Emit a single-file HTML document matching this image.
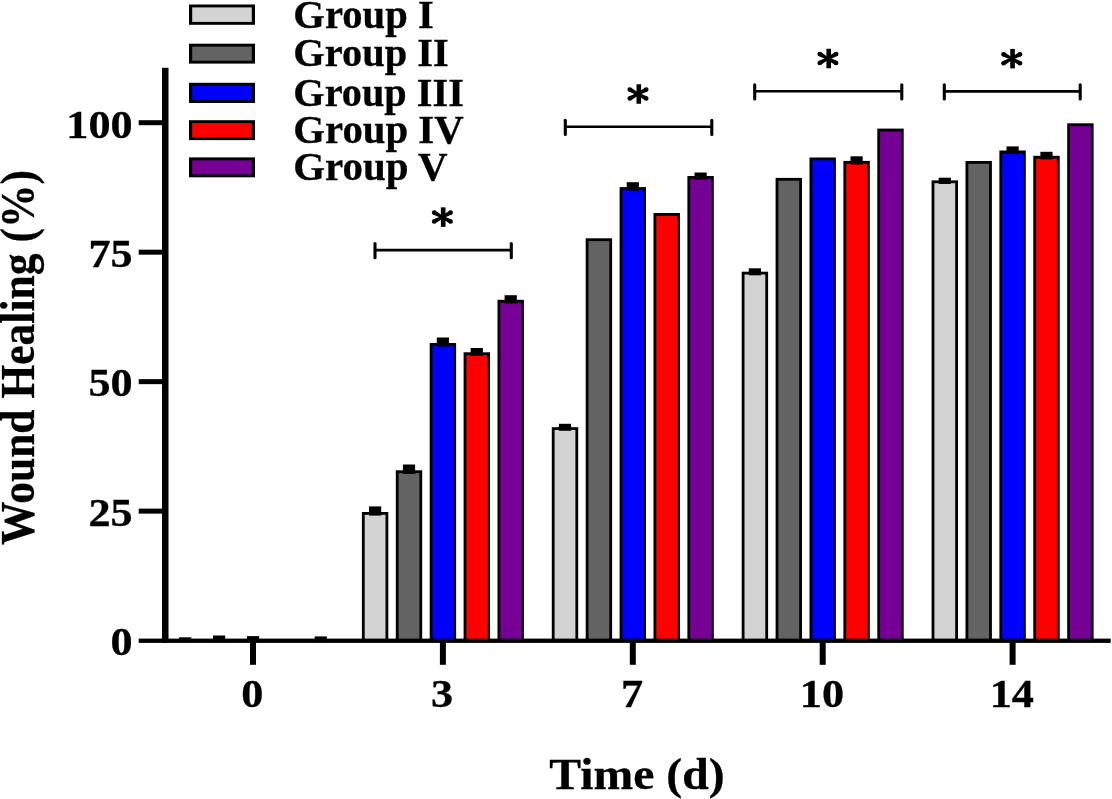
<!DOCTYPE html>
<html><head><meta charset="utf-8"><style>
html,body{margin:0;padding:0;background:#fff;}
body{width:1112px;height:799px;overflow:hidden;}
svg{display:block;filter:blur(0.45px);}
text{font-family:"Liberation Serif",serif;font-weight:bold;fill:#000;stroke:#000;stroke-width:0.3px;}
</style></head><body>
<svg width="1112" height="799" viewBox="0 0 1112 799">
<rect x="0" y="0" width="1112" height="799" fill="#fff"/>
<rect x="179.10" y="637.30" width="12.20" height="4.90" fill="#000"/>
<rect x="213.00" y="635.50" width="12.20" height="6.70" fill="#000"/>
<rect x="246.90" y="636.10" width="12.20" height="6.10" fill="#000"/>
<rect x="314.70" y="636.40" width="12.20" height="5.80" fill="#000"/>
<rect x="361.90" y="512.00" width="26.40" height="127.60" fill="#000"/>
<rect x="364.70" y="514.80" width="20.80" height="124.80" fill="#d3d3d3"/>
<rect x="369.00" y="506.40" width="12.20" height="9.20" fill="#000"/>
<rect x="395.80" y="470.30" width="26.40" height="169.30" fill="#000"/>
<rect x="398.60" y="473.10" width="20.80" height="166.50" fill="#636363"/>
<rect x="402.90" y="464.50" width="12.20" height="9.40" fill="#000"/>
<rect x="429.70" y="343.00" width="26.40" height="296.60" fill="#000"/>
<rect x="432.50" y="345.80" width="20.80" height="293.80" fill="#0000ff"/>
<rect x="436.80" y="337.50" width="12.20" height="9.10" fill="#000"/>
<rect x="463.60" y="352.30" width="26.40" height="287.30" fill="#000"/>
<rect x="466.40" y="355.10" width="20.80" height="284.50" fill="#ff0000"/>
<rect x="470.70" y="348.00" width="12.20" height="7.90" fill="#000"/>
<rect x="497.50" y="299.80" width="26.40" height="339.80" fill="#000"/>
<rect x="500.30" y="302.60" width="20.80" height="337.00" fill="#760096"/>
<rect x="504.60" y="295.20" width="12.20" height="8.20" fill="#000"/>
<rect x="551.80" y="427.20" width="26.40" height="212.40" fill="#000"/>
<rect x="554.60" y="430.00" width="20.80" height="209.60" fill="#d3d3d3"/>
<rect x="558.90" y="423.80" width="12.20" height="7.00" fill="#000"/>
<rect x="585.70" y="238.30" width="26.40" height="401.30" fill="#000"/>
<rect x="588.50" y="241.10" width="20.80" height="398.50" fill="#636363"/>
<rect x="619.60" y="187.10" width="26.40" height="452.50" fill="#000"/>
<rect x="622.40" y="189.90" width="20.80" height="449.70" fill="#0000ff"/>
<rect x="626.70" y="182.20" width="12.20" height="8.50" fill="#000"/>
<rect x="653.50" y="213.00" width="26.40" height="426.60" fill="#000"/>
<rect x="656.30" y="215.80" width="20.80" height="423.80" fill="#ff0000"/>
<rect x="687.40" y="176.00" width="26.40" height="463.60" fill="#000"/>
<rect x="690.20" y="178.80" width="20.80" height="460.80" fill="#760096"/>
<rect x="694.50" y="172.50" width="12.20" height="7.10" fill="#000"/>
<rect x="741.70" y="271.70" width="26.40" height="367.90" fill="#000"/>
<rect x="744.50" y="274.50" width="20.80" height="365.10" fill="#d3d3d3"/>
<rect x="748.80" y="268.30" width="12.20" height="7.00" fill="#000"/>
<rect x="775.60" y="177.90" width="26.40" height="461.70" fill="#000"/>
<rect x="778.40" y="180.70" width="20.80" height="458.90" fill="#636363"/>
<rect x="809.50" y="157.50" width="26.40" height="482.10" fill="#000"/>
<rect x="812.30" y="160.30" width="20.80" height="479.30" fill="#0000ff"/>
<rect x="843.40" y="160.90" width="26.40" height="478.70" fill="#000"/>
<rect x="846.20" y="163.70" width="20.80" height="475.90" fill="#ff0000"/>
<rect x="850.50" y="156.30" width="12.20" height="8.20" fill="#000"/>
<rect x="877.30" y="128.60" width="26.40" height="511.00" fill="#000"/>
<rect x="880.10" y="131.40" width="20.80" height="508.20" fill="#760096"/>
<rect x="931.60" y="180.40" width="26.40" height="459.20" fill="#000"/>
<rect x="934.40" y="183.20" width="20.80" height="456.40" fill="#d3d3d3"/>
<rect x="938.70" y="177.70" width="12.20" height="6.30" fill="#000"/>
<rect x="965.50" y="161.00" width="26.40" height="478.60" fill="#000"/>
<rect x="968.30" y="163.80" width="20.80" height="475.80" fill="#636363"/>
<rect x="999.40" y="150.50" width="26.40" height="489.10" fill="#000"/>
<rect x="1002.20" y="153.30" width="20.80" height="486.30" fill="#0000ff"/>
<rect x="1006.50" y="146.40" width="12.20" height="7.70" fill="#000"/>
<rect x="1033.30" y="155.80" width="26.40" height="483.80" fill="#000"/>
<rect x="1036.10" y="158.60" width="20.80" height="481.00" fill="#ff0000"/>
<rect x="1040.40" y="151.80" width="12.20" height="7.60" fill="#000"/>
<rect x="1067.20" y="123.30" width="26.40" height="516.30" fill="#000"/>
<rect x="1070.00" y="126.10" width="20.80" height="513.50" fill="#760096"/>
<rect x="162" y="67.8" width="6.5" height="575" fill="#000"/>
<rect x="138.7" y="638.6" width="972" height="4.3" fill="#000"/>
<text transform="translate(132.69,655.40) scale(1.09,1)" style="font-size:40.6px" text-anchor="end">0</text>
<rect x="138.7" y="508.62" width="26" height="5" fill="#000"/>
<text transform="translate(132.69,525.92) scale(1.09,1)" style="font-size:40.6px" text-anchor="end">25</text>
<rect x="138.7" y="379.15" width="26" height="5" fill="#000"/>
<text transform="translate(132.69,396.45) scale(1.09,1)" style="font-size:40.6px" text-anchor="end">50</text>
<rect x="138.7" y="249.68" width="26" height="5" fill="#000"/>
<text transform="translate(132.69,266.98) scale(1.09,1)" style="font-size:40.6px" text-anchor="end">75</text>
<rect x="138.7" y="120.20" width="26" height="5" fill="#000"/>
<text transform="translate(132.69,137.50) scale(1.09,1)" style="font-size:40.6px" text-anchor="end">100</text>
<rect x="250.00" y="640" width="6" height="24.8" fill="#000"/>
<text transform="translate(252.20,707.1) scale(1.09,1)" style="font-size:40.6px" text-anchor="middle">0</text>
<rect x="439.90" y="640" width="6" height="24.8" fill="#000"/>
<text transform="translate(442.10,707.1) scale(1.09,1)" style="font-size:40.6px" text-anchor="middle">3</text>
<rect x="629.80" y="640" width="6" height="24.8" fill="#000"/>
<text transform="translate(632.00,707.1) scale(1.09,1)" style="font-size:40.6px" text-anchor="middle">7</text>
<rect x="819.70" y="640" width="6" height="24.8" fill="#000"/>
<text transform="translate(821.90,707.1) scale(1.09,1)" style="font-size:40.6px" text-anchor="middle">10</text>
<rect x="1009.60" y="640" width="6" height="24.8" fill="#000"/>
<text transform="translate(1011.80,707.1) scale(1.09,1)" style="font-size:40.6px" text-anchor="middle">14</text>
<line x1="375.00" y1="250.10" x2="511.30" y2="250.10" stroke="#000" stroke-width="2.6"/>
<line x1="375.00" y1="243.50" x2="375.00" y2="257.70" stroke="#000" stroke-width="3.1" stroke-linecap="round"/>
<line x1="511.30" y1="243.50" x2="511.30" y2="257.70" stroke="#000" stroke-width="3.1" stroke-linecap="round"/>
<g transform="translate(442.40,217.10)"><rect x="-1.5" y="-9.75" width="4.6" height="19.5" fill="#000"/><path d="M0.62,-1.14 L-7.23,-6.48 L-9.37,-2.52 L-0.62,1.14 Z" fill="#000"/><circle cx="-8.30" cy="-4.50" r="2.25" fill="#000"/><path d="M-0.62,-1.14 L-9.37,2.52 L-7.23,6.48 L0.62,1.14 Z" fill="#000"/><circle cx="-8.30" cy="4.50" r="2.25" fill="#000"/><path d="M0.62,1.14 L9.37,-2.52 L7.23,-6.48 L-0.62,-1.14 Z" fill="#000"/><circle cx="8.30" cy="-4.50" r="2.25" fill="#000"/><path d="M-0.62,1.14 L7.23,6.48 L9.37,2.52 L0.62,-1.14 Z" fill="#000"/><circle cx="8.30" cy="4.50" r="2.25" fill="#000"/></g>
<line x1="565.30" y1="126.80" x2="711.80" y2="126.80" stroke="#000" stroke-width="2.6"/>
<line x1="565.30" y1="120.20" x2="565.30" y2="134.40" stroke="#000" stroke-width="3.1" stroke-linecap="round"/>
<line x1="711.80" y1="120.20" x2="711.80" y2="134.40" stroke="#000" stroke-width="3.1" stroke-linecap="round"/>
<g transform="translate(638.00,94.00)"><rect x="-1.5" y="-9.75" width="4.6" height="19.5" fill="#000"/><path d="M0.62,-1.14 L-7.23,-6.48 L-9.37,-2.52 L-0.62,1.14 Z" fill="#000"/><circle cx="-8.30" cy="-4.50" r="2.25" fill="#000"/><path d="M-0.62,-1.14 L-9.37,2.52 L-7.23,6.48 L0.62,1.14 Z" fill="#000"/><circle cx="-8.30" cy="4.50" r="2.25" fill="#000"/><path d="M0.62,1.14 L9.37,-2.52 L7.23,-6.48 L-0.62,-1.14 Z" fill="#000"/><circle cx="8.30" cy="-4.50" r="2.25" fill="#000"/><path d="M-0.62,1.14 L7.23,6.48 L9.37,2.52 L0.62,-1.14 Z" fill="#000"/><circle cx="8.30" cy="4.50" r="2.25" fill="#000"/></g>
<line x1="754.70" y1="91.30" x2="901.80" y2="91.30" stroke="#000" stroke-width="2.6"/>
<line x1="754.70" y1="84.70" x2="754.70" y2="98.90" stroke="#000" stroke-width="3.1" stroke-linecap="round"/>
<line x1="901.80" y1="84.70" x2="901.80" y2="98.90" stroke="#000" stroke-width="3.1" stroke-linecap="round"/>
<g transform="translate(827.90,58.50)"><rect x="-1.5" y="-9.75" width="4.6" height="19.5" fill="#000"/><path d="M0.62,-1.14 L-7.23,-6.48 L-9.37,-2.52 L-0.62,1.14 Z" fill="#000"/><circle cx="-8.30" cy="-4.50" r="2.25" fill="#000"/><path d="M-0.62,-1.14 L-9.37,2.52 L-7.23,6.48 L0.62,1.14 Z" fill="#000"/><circle cx="-8.30" cy="4.50" r="2.25" fill="#000"/><path d="M0.62,1.14 L9.37,-2.52 L7.23,-6.48 L-0.62,-1.14 Z" fill="#000"/><circle cx="8.30" cy="-4.50" r="2.25" fill="#000"/><path d="M-0.62,1.14 L7.23,6.48 L9.37,2.52 L0.62,-1.14 Z" fill="#000"/><circle cx="8.30" cy="4.50" r="2.25" fill="#000"/></g>
<line x1="944.30" y1="91.40" x2="1080.20" y2="91.40" stroke="#000" stroke-width="2.6"/>
<line x1="944.30" y1="84.80" x2="944.30" y2="99.00" stroke="#000" stroke-width="3.1" stroke-linecap="round"/>
<line x1="1080.20" y1="84.80" x2="1080.20" y2="99.00" stroke="#000" stroke-width="3.1" stroke-linecap="round"/>
<g transform="translate(1011.75,58.65)"><rect x="-1.5" y="-9.75" width="4.6" height="19.5" fill="#000"/><path d="M0.62,-1.14 L-7.23,-6.48 L-9.37,-2.52 L-0.62,1.14 Z" fill="#000"/><circle cx="-8.30" cy="-4.50" r="2.25" fill="#000"/><path d="M-0.62,-1.14 L-9.37,2.52 L-7.23,6.48 L0.62,1.14 Z" fill="#000"/><circle cx="-8.30" cy="4.50" r="2.25" fill="#000"/><path d="M0.62,1.14 L9.37,-2.52 L7.23,-6.48 L-0.62,-1.14 Z" fill="#000"/><circle cx="8.30" cy="-4.50" r="2.25" fill="#000"/><path d="M-0.62,1.14 L7.23,6.48 L9.37,2.52 L0.62,-1.14 Z" fill="#000"/><circle cx="8.30" cy="4.50" r="2.25" fill="#000"/></g>
<rect x="189" y="4.50" width="66" height="20.30" fill="#000"/>
<rect x="192.20" y="7.40" width="59.60" height="14.50" fill="#d3d3d3"/>
<text transform="translate(293.32,27.50) scale(1.0289,1)" style="font-size:39.5px">Group I</text>
<rect x="189" y="43.70" width="66" height="19.90" fill="#000"/>
<rect x="192.20" y="46.60" width="59.60" height="14.10" fill="#636363"/>
<text transform="translate(293.33,66.40) scale(1.0234,1)" style="font-size:39.5px">Group II</text>
<rect x="189" y="82.80" width="66" height="20.20" fill="#000"/>
<rect x="192.20" y="85.70" width="59.60" height="14.40" fill="#0000ff"/>
<text transform="translate(293.33,106.40) scale(1.0202,1)" style="font-size:39.5px">Group III</text>
<rect x="189" y="120.20" width="66" height="19.90" fill="#000"/>
<rect x="192.20" y="123.10" width="59.60" height="14.10" fill="#ff0000"/>
<text transform="translate(293.31,142.80) scale(1.0328,1)" style="font-size:39.5px">Group IV</text>
<rect x="189" y="157.40" width="66" height="19.90" fill="#000"/>
<rect x="192.20" y="160.30" width="59.60" height="14.10" fill="#760096"/>
<text transform="translate(293.30,180.10) scale(1.036,1)" style="font-size:39.5px">Group V</text>
<text transform="translate(549.36,788.5) scale(1.084,1)" style="font-size:44.0px">Time (d)</text>
<text transform="translate(34.1,544.92) rotate(-90) scale(0.9164,1)" style="font-size:47.5px">Wound Healing (%)</text>
</svg>
</body></html>
